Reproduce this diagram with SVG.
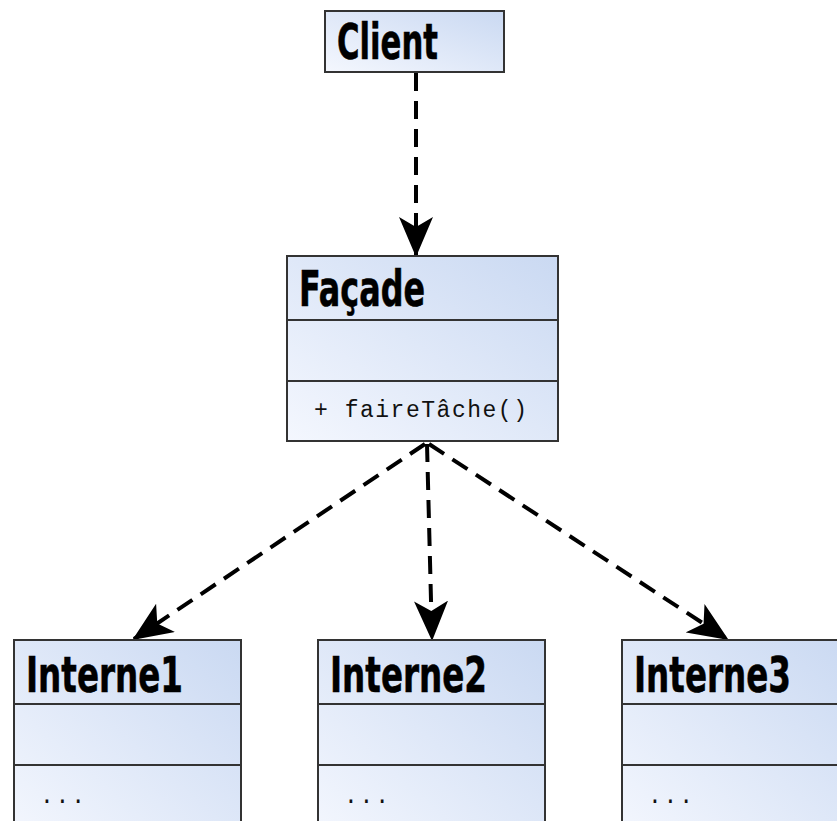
<svg xmlns="http://www.w3.org/2000/svg" width="837" height="821" viewBox="0 0 837 821">
<defs>
<linearGradient id="g" x1="0" y1="1" x2="1" y2="0">
<stop offset="0" stop-color="#f4f7fe"/>
<stop offset="1" stop-color="#cad9f2"/>
</linearGradient>
<marker id="ah" viewBox="0 0 40 34" refX="38" refY="17" markerWidth="40" markerHeight="34" markerUnits="userSpaceOnUse" orient="auto">
<path d="M0,0 L40,17 L0,34 L10,17 Z" fill="#000"/>
</marker>
<style>
.box{fill:url(#g);stroke:#333;stroke-width:2}
.sep{stroke:#333;stroke-width:2}
.t{font-family:"DejaVu Sans","Liberation Sans",sans-serif;font-weight:bold;font-size:49px;fill:#000;stroke:#000;stroke-width:0.6}
.m{font-family:"Liberation Mono",monospace;font-size:23px;fill:#111}
.c{fill:none;stroke:#000;stroke-width:4;stroke-dasharray:18 10;marker-end:url(#ah)}
</style>
</defs>
<rect width="837" height="821" fill="#fff"/>
<g id="connectors">
<path class="c" d="M416,73 L416,255"/>
<path class="c" d="M425,444 L134,639"/>
<path class="c" d="M427,444 L432,639"/>
<path class="c" d="M429,444 L727,639"/>
</g>
<g id="client">
<rect class="box" x="325" y="11" width="179" height="61"/>
<text class="t" x="337" y="59" textLength="101" lengthAdjust="spacingAndGlyphs">Client</text>
</g>
<g id="facade">
<rect class="box" x="287" y="256" width="271" height="185"/>
<line class="sep" x1="287" y1="320" x2="558" y2="320"/>
<line class="sep" x1="287" y1="381" x2="558" y2="381"/>
<text class="t" x="299" y="306" textLength="126" lengthAdjust="spacingAndGlyphs">Façade</text>
<text class="m" x="314" y="417" textLength="213">+ faireTâche()</text>
</g>
<g id="interne1">
<rect class="box" x="14" y="640" width="227" height="200"/>
<line class="sep" x1="14" y1="704" x2="241" y2="704"/>
<line class="sep" x1="14" y1="765" x2="241" y2="765"/>
<text class="t" x="26" y="692" textLength="157" lengthAdjust="spacingAndGlyphs">Interne1</text>
<text class="m" x="40" y="803" textLength="45">...</text>
</g>
<g id="interne2">
<rect class="box" x="318" y="640" width="227" height="200"/>
<line class="sep" x1="318" y1="704" x2="545" y2="704"/>
<line class="sep" x1="318" y1="765" x2="545" y2="765"/>
<text class="t" x="330" y="692" textLength="157" lengthAdjust="spacingAndGlyphs">Interne2</text>
<text class="m" x="344" y="803" textLength="45">...</text>
</g>
<g id="interne3">
<rect class="box" x="622" y="640" width="227" height="200"/>
<line class="sep" x1="622" y1="704" x2="849" y2="704"/>
<line class="sep" x1="622" y1="765" x2="849" y2="765"/>
<text class="t" x="634" y="692" textLength="157" lengthAdjust="spacingAndGlyphs">Interne3</text>
<text class="m" x="648" y="803" textLength="45">...</text>
</g>
</svg>
